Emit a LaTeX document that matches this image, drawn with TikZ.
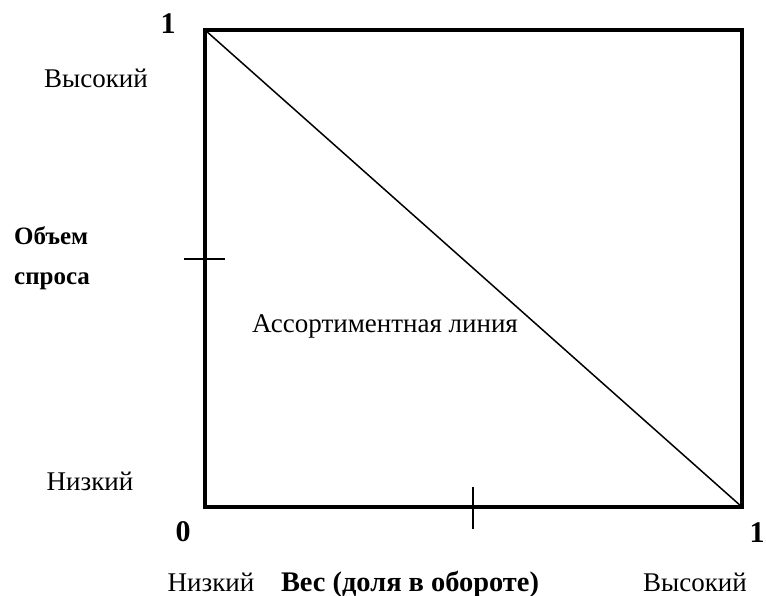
\documentclass[tikz,border=0pt]{standalone}
\usepackage{fontspec}
\setmainfont{Liberation Serif}
\begin{document}
\begin{tikzpicture}[x=1pt,y=-1pt,
  lbl/.style={inner sep=0pt,font=\fontsize{27}{30}\selectfont},
  blbl/.style={inner sep=0pt,font=\fontsize{25}{30}\selectfont\bfseries},
  xlbl/.style={inner sep=0pt,font=\fontsize{28.4}{30}\selectfont\bfseries},
  num/.style={inner sep=0pt,font=\fontsize{30}{32}\selectfont\bfseries},
  frame/.style={line width=4pt,line join=miter},
  thin/.style={line width=1.5pt}]
\useasboundingbox (0,0) rectangle (766,596);
\coordinate (tl) at (205,30);
\coordinate (tr) at (742,30);
\coordinate (br) at (742,507);
\coordinate (bl) at (205,507);
\draw[frame] (tl) -- (tr) -- (br) -- (bl) -- cycle;
\draw[thin] (tl) -- (br);
\coordinate (lt1) at (184,259);
\coordinate (lt2) at (225,259);
\draw[thin] (lt1) -- (lt2);
\coordinate (bt1) at (473,487);
\coordinate (bt2) at (473,529);
\draw[thin] (bt1) -- (bt2);
\node[num] (one1) at (168,24) {1};
\node[num] (zero) at (183,532) {0};
\node[num] (one2) at (757,533) {1};
\node[lbl] (hi) at (96,78) {Высокий};
\node[blbl,anchor=west] (ob) at (14,236) {Объем};
\node[blbl,anchor=west] (sp) at (14,281) {спроса};
\node[lbl] (lo) at (90,481) {Низкий};
\node[lbl] (al) at (385,326) {Ассортиментная линия};
\node[lbl,anchor=base] (blo) at (211,591) {Низкий};
\node[xlbl,anchor=base] (ves) at (410,591) {Вес (доля в обороте)};
\node[lbl,anchor=base] (bhi) at (695,591) {Высокий};
\end{tikzpicture}
\end{document}
